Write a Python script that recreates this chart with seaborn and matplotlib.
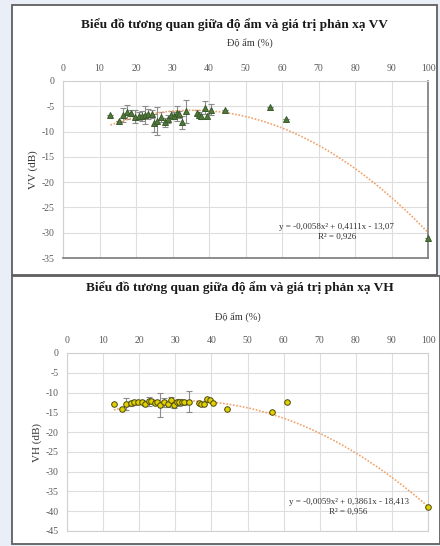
import numpy as np
import pandas as pd
import matplotlib
matplotlib.use("Agg")
import matplotlib.pyplot as plt
import seaborn as sns
from matplotlib.patches import Rectangle

# do am (%) - shared by both charts
moisture = [13.0, 15.3, 16.4, 17.6, 18.6, 19.8, 20.8, 21.7, 22.6, 23.4, 24.3, 25.0,
            25.8, 26.9, 27.9, 28.7, 29.6, 30.4, 31.1, 31.9, 32.5, 33.8, 36.6, 37.2,
            37.9, 38.8, 39.5, 40.5, 44.3, 56.8, 61.0, 100.0]

vv_mean = [-6.8, -8.0, -6.7, -6.1, -6.3, -7.1, -6.9, -7.0, -6.7, -6.6, -6.6, -8.3,
           -7.9, -7.1, -8.2, -7.6, -6.7, -6.9, -6.4, -6.6, -8.2, -6.0, -6.3, -6.7,
           -7.0, -5.3, -7.0, -5.7, -5.8, -5.2, -7.5, -31.0]
vv_std = [0, 0, 1.4, 1.4, 0.6, 1.3, 0.8, 1.0, 1.8, 1.0, 0.8, 1.8,
          2.8, 1.0, 0.9, 0.8, 0.8, 0.7, 1.5, 0.7, 1.2, 2.3, 0.5, 0.6,
          0.5, 1.3, 0.4, 1.1, 0, 0, 0, 0]

vh_mean = [-12.8, -14.1, -12.8, -12.7, -12.5, -12.3, -12.5, -12.8, -12.2, -12.1, -12.6, -12.4,
           -13.1, -12.5, -12.9, -12.0, -13.1, -12.5, -12.5, -12.3, -12.5, -12.3, -12.6, -12.8,
           -12.8, -11.7, -12.0, -12.6, -14.1, -14.9, -12.4, -39.0]
vh_std = [0, 0, 1.5, 0.6, 0.7, 0.4, 0.5, 0.6, 1.1, 0.5, 0.6, 0.5,
          3.1, 1.2, 0.8, 1.0, 0.7, 0.5, 0.8, 0.5, 0.6, 2.6, 0, 0,
          0, 0, 0, 0, 0, 0, 0, 0]

# Excel trendline coefficients (poly order 2)
vv_fit = [-0.0058, 0.4111, -13.07]
vh_fit = [-0.0059, 0.3861, -18.413]

df = pd.DataFrame({"moisture": moisture, "VV": vv_mean, "VV_std": vv_std,
                   "VH": vh_mean, "VH_std": vh_std})

sns.set_theme(style="white")
plt.rcParams['font.family'] = ['Liberation Serif', 'DejaVu Serif']
plt.rcParams['axes.unicode_minus'] = False

fig = plt.figure(figsize=(4.4, 5.46), dpi=100, facecolor="#eaeff7")
W, H = 440.0, 546.0

def px_rect(x0, y0, x1, y1):
  return [x0 / W, 1 - y1 / H, (x1 - x0) / W, (y1 - y0) / H]

# panel frames (behind the axes)
for (x0, y0, x1, y1) in [(12, 5, 437, 275), (12, 276, 440, 544)]:
  r = px_rect(x0, y0, x1, y1)
  fig.patches.append(Rectangle((r[0], r[1]), r[2], r[3], transform=fig.transFigure,
                               facecolor="white", edgecolor="#5f5f5f", lw=1.3, zorder=-5))


def draw_panel(rect, col, marker, color, edge, fit, ymin, title, ylabel, eq, r2, eq_xy,
               title_xy, xlab_xy, ylab_x, dark_frame, msize):
  ax = fig.add_axes(px_rect(*rect))
  ax.set_zorder(1)
  ax.patch.set_alpha(0)
  xs = np.linspace(df["moisture"].min(), df["moisture"].max(), 200)
  trend = pd.DataFrame({"x": xs, "y": np.polyval(fit, xs)})
  ax.errorbar(df["moisture"], df[col], yerr=df[col + "_std"], fmt="none",
              ecolor="#8c8c8c", elinewidth=0.8, capsize=2, capthick=0.8, zorder=2)
  sns.lineplot(data=trend, x="x", y="y", ax=ax, color="#f2a36b", lw=1.2,
               linestyle=(0, (1, 1)), zorder=3)
  sns.scatterplot(data=df, x="moisture", y=col, ax=ax, marker=marker, color=color,
                  edgecolor=edge, linewidth=0.7, s=msize, zorder=4, clip_on=False)
  ax.set_xlim(0, 100)
  ax.set_ylim(ymin, 0)
  ax.set_xticks(range(0, 101, 10))
  ax.set_yticks(range(0, ymin - 1, -5))
  ax.xaxis.tick_top()
  ax.tick_params(length=0, labelsize=7, labelcolor="#595959", pad=6)
  ax.grid(True, color="#dedede", lw=0.8)
  for s in ax.spines.values():
    s.set_color("#d0d0d0")
    s.set_linewidth(0.8)
  if dark_frame:
    ax.spines["right"].set_color("#7a7a7a")
    ax.spines["bottom"].set_color("#7a7a7a")
    ax.spines["right"].set_linewidth(1.2)
    ax.spines["bottom"].set_linewidth(1.2)
  ax.set_xlabel("")
  ax.set_ylabel("")
  fig.text(title_xy[0] / W, 1 - title_xy[1] / H, title, ha="center",
           va="center", fontsize=9.6, fontweight="bold", color="#1a1a1a")
  fig.text(xlab_xy[0] / W, 1 - xlab_xy[1] / H, "Độ ẩm (%)", ha="center",
           va="center", fontsize=7.5, color="#333333")
  fig.text(ylab_x / W, 1 - 0.5 * (rect[1] + rect[3]) / H, ylabel, rotation=90,
           ha="center", va="center", fontsize=8, color="#333333")
  ax.text(eq_xy[0], eq_xy[1], eq + "\n" + r2, ha="center", va="center",
          fontsize=6.5, color="#333333", linespacing=1.3)
  return ax


draw_panel((63, 81, 428, 258), "VV", "^", "#4f7a3c", "#3a5a2a", vv_fit, -35,
           "Biểu đồ tương quan giữa độ ẩm và giá trị phản xạ VV", "VV (dB)",
           "y = -0,0058x² + 0,4111x - 13,07", "R² = 0,926", (75, -29.8),
           (234, 25), (250, 43), 33, True, 18)

draw_panel((67, 353, 428, 531), "VH", "o", "#e3d000", "#4a4a10", vh_fit, -45,
           "Biểu đồ tương quan giữa độ ẩm và giá trị phản xạ VH", "VH (dB)",
           "y = -0,0059x² + 0,3861x - 18,413", "R² = 0,956", (78, -38.9),
           (240, 288), (238, 317), 37, False, 16)

plt.savefig("out.png", dpi=100, facecolor=fig.get_facecolor())
